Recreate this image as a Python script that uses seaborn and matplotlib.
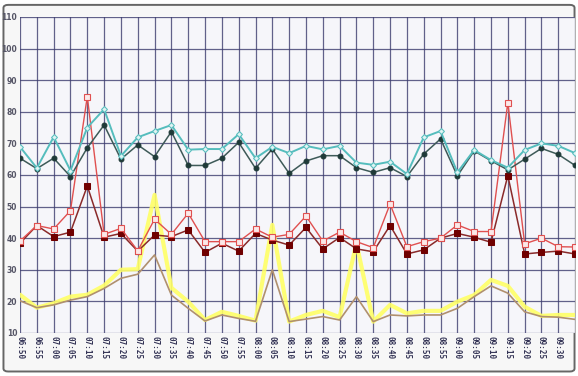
import numpy as np
import pandas as pd
import matplotlib
matplotlib.use("Agg")
import matplotlib.pyplot as plt
import seaborn as sns
from matplotlib.patches import FancyBboxPatch

times = ["06:50", "06:55", "07:00", "07:05", "07:10", "07:15", "07:20", "07:25", "07:30", "07:35",
         "07:40", "07:45", "07:50", "07:55", "08:00", "08:05", "08:10", "08:15", "08:20", "08:25",
         "08:30", "08:35", "08:40", "08:45", "08:50", "08:55", "09:00", "09:05", "09:10", "09:15",
         "09:20", "09:25", "09:30", "09:35"]

teal = [68.9, 62.2, 72.0, 61.4, 75.0, 80.8, 66.0, 71.9, 73.9, 75.8,
        68.0, 68.2, 68.2, 72.9, 65.3, 68.9, 66.9, 69.2, 68.1, 69.2,
        63.9, 63.2, 64.2, 60.3, 71.9, 73.9, 60.8, 67.9, 64.7, 62.3,
        67.9, 70.0, 69.2, 66.9]
dark = [65.3, 62.0, 65.3, 59.5, 68.6, 75.8, 65.0, 69.5, 65.8, 73.7,
        63.0, 63.0, 65.3, 70.3, 62.1, 68.2, 60.5, 64.4, 66.1, 66.1,
        62.3, 60.8, 62.3, 59.5, 66.6, 71.4, 59.7, 67.6, 64.5, 61.6,
        65.0, 68.4, 66.5, 63.0]
light_red = [39.1, 44.0, 42.9, 48.7, 84.8, 41.2, 43.1, 36.0, 46.0, 41.2,
             47.9, 38.9, 38.9, 38.9, 42.9, 40.3, 41.2, 47.0, 39.1, 41.9,
             38.9, 37.0, 50.8, 37.3, 38.9, 40.0, 44.2, 42.1, 42.1, 82.9,
             38.2, 40.0, 37.3, 37.2]
dark_red = [38.4, 44.0, 40.5, 41.9, 56.5, 40.3, 41.5, 35.9, 41.0, 40.5,
            42.6, 35.5, 38.4, 35.9, 41.5, 39.4, 37.8, 43.4, 36.6, 40.2,
            36.6, 35.7, 44.0, 35.0, 36.3, 40.0, 41.5, 40.3, 38.7, 59.8,
            35.0, 35.5, 35.9, 35.0]
yellow = [22.1, 18.0, 19.4, 21.5, 22.1, 25.0, 30.0, 30.2, 53.7, 24.3,
          19.9, 14.1, 16.7, 15.4, 13.9, 44.2, 13.6, 15.7, 17.0, 15.0,
          38.4, 13.6, 18.9, 16.2, 17.0, 17.0, 19.9, 22.0, 26.8, 24.9,
          18.3, 15.4, 15.7, 15.7]
tan = [20.2, 18.0, 18.9, 20.4, 21.5, 24.1, 27.3, 28.6, 34.7, 22.0,
       17.8, 13.8, 15.7, 14.6, 13.7, 30.0, 13.6, 14.4, 15.2, 14.1,
       21.5, 13.6, 15.7, 15.4, 15.7, 15.7, 17.8, 21.5, 24.9, 22.6,
       16.7, 15.2, 15.0, 14.3]

x = np.arange(len(times))
df = pd.DataFrame({"x": x, "teal": teal, "dark": dark, "light_red": light_red,
                   "dark_red": dark_red, "yellow": yellow, "tan": tan})

sns.set_style("white")
fig = plt.figure(figsize=(5.78, 3.76), dpi=100)
fig.patch.set_facecolor("white")
frame = FancyBboxPatch((0.006, 0.012), 0.988, 0.975, boxstyle="round,pad=0,rounding_size=0.008",
                       transform=fig.transFigure, facecolor="#f7f7f7", edgecolor="#666666",
                       linewidth=1.4, zorder=-10)
fig.patches.append(frame)
ax = fig.add_axes([0.0346, 0.1144, 0.9604, 0.8406])
ax.set_facecolor("#f6f6fa")

sns.lineplot(data=df, x="x", y="yellow", ax=ax, color="#ffff66", linewidth=3.0, alpha=0.9, zorder=3)
sns.lineplot(data=df, x="x", y="tan", ax=ax, color="#b0906e", linewidth=1.2, zorder=4)
sns.lineplot(data=df, x="x", y="dark_red", ax=ax, color="#8a2a2a", linewidth=1.1, marker="s",
             markersize=4.5, markerfacecolor="#700000", markeredgecolor="#700000", zorder=5)
sns.lineplot(data=df, x="x", y="light_red", ax=ax, color="#e05050", linewidth=1.0, marker="s",
             markersize=4.5, markerfacecolor="#fbe8e8", markeredgecolor="#e05050",
             markeredgewidth=0.8, zorder=6)
sns.lineplot(data=df, x="x", y="dark", ax=ax, color="#3e5a58", linewidth=1.1, marker="o",
             markersize=3.5, markerfacecolor="#1f3a38", markeredgecolor="#1f3a38", zorder=7)
sns.lineplot(data=df, x="x", y="teal", ax=ax, color="#55bdbd", linewidth=1.4, marker="D",
             markersize=3.0, markerfacecolor="#dff3f3", markeredgecolor="#55bdbd", zorder=8)

ax.set_xlim(0, len(times) - 1)
ax.set_ylim(10, 110)
ax.set_xticks(x)
ax.set_xticklabels(times[:-1] + [""], rotation=270, fontsize=5.5, fontweight="bold",
                   color="#333355", family="DejaVu Sans Mono")
ax.set_yticks(np.arange(10, 111, 10))
ax.set_yticklabels([str(v) for v in range(10, 111, 10)], fontsize=5.5, fontweight="bold",
                   color="#555566")
ax.tick_params(axis="both", length=0, pad=2)
ax.grid(True, color="#3c3c6e", linewidth=0.9, alpha=0.8)
ax.set_axisbelow(True)
ax.set_xlabel("")
ax.set_ylabel("")
for s in ax.spines.values():
    s.set_visible(False)

fig.savefig("out.png", dpi=100, facecolor=fig.get_facecolor())
